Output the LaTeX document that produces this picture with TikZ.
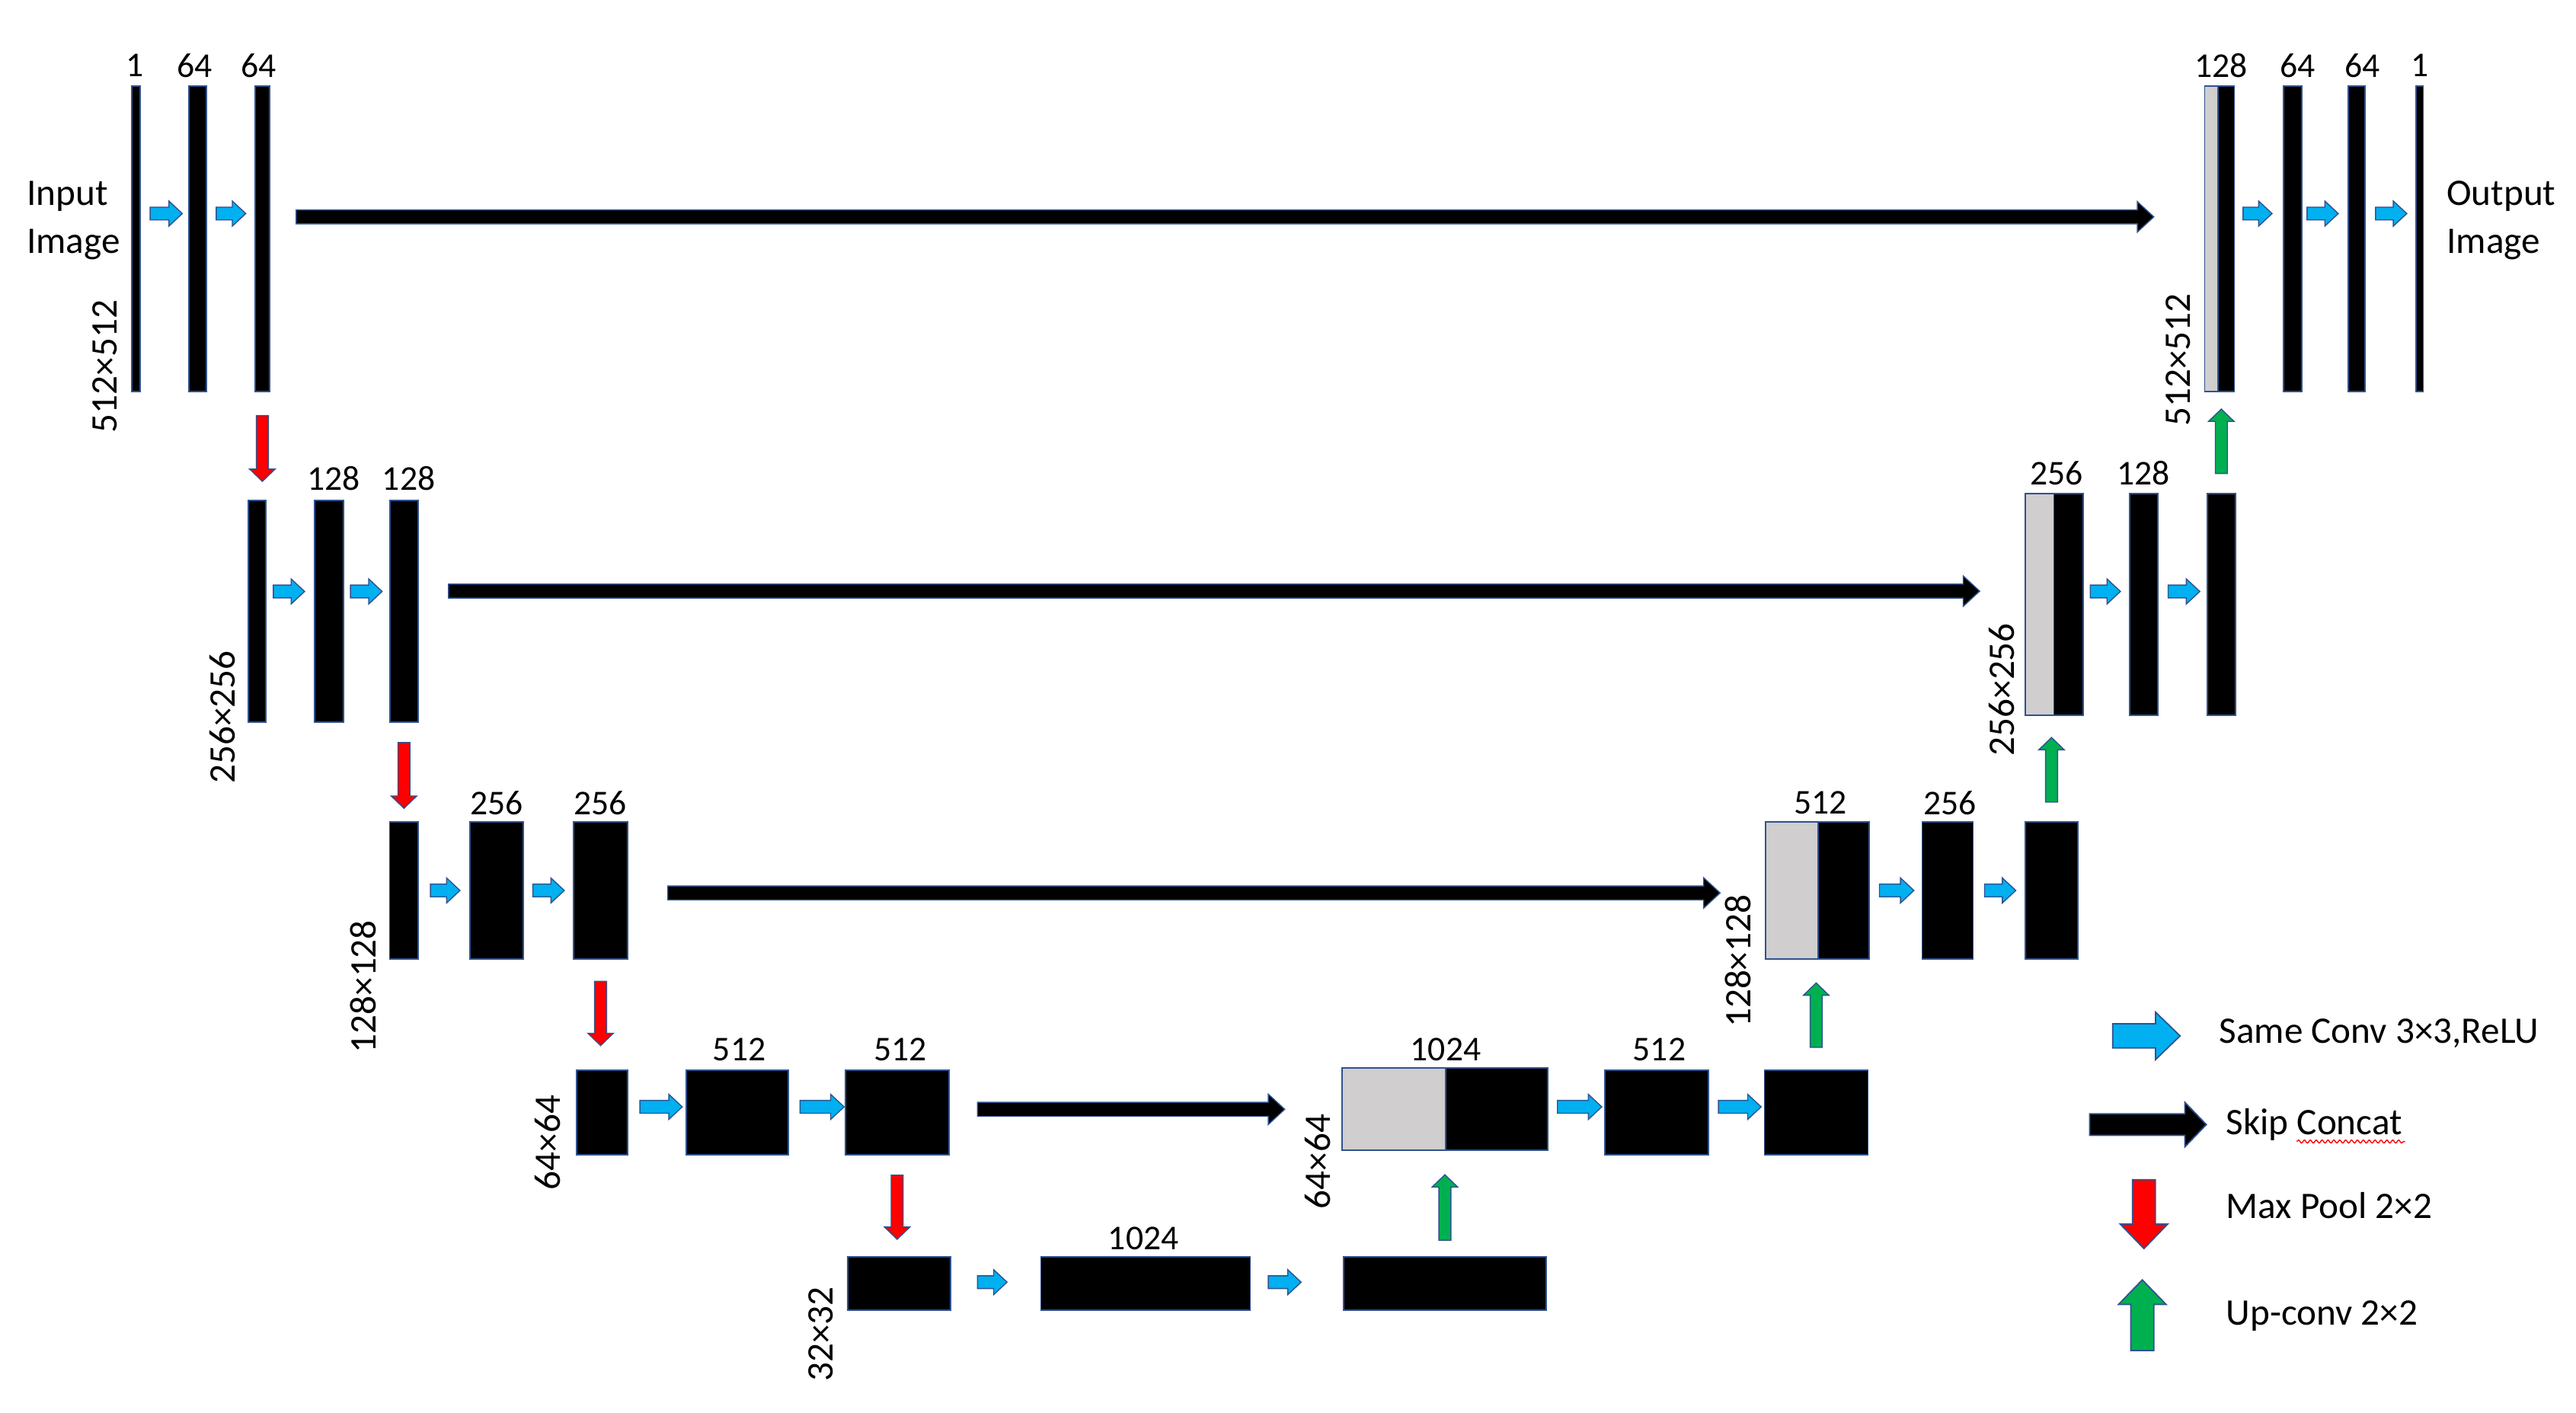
\documentclass[tikz,border=0pt]{standalone}
\usepackage{fontspec}
\setmainfont{Carlito}
\usetikzlibrary{fit,calc,decorations.pathmorphing}
\definecolor{bdr}{RGB}{47,82,143}
\definecolor{convblue}{RGB}{0,176,240}
\definecolor{catgray}{RGB}{208,206,206}
\definecolor{poolred}{RGB}{255,0,0}
\definecolor{upgreen}{RGB}{0,176,80}
% horizontal block arrow: style, start, tip
\newcommand\harrow[3]{\path[#1] let \p1=#2, \p2=#3 in
  (\x1,{\y1+\arS}) -- ({\x2-\arL},{\y1+\arS}) -- ({\x2-\arL},{\y1+\arH}) -- (\x2,\y1)
  -- ({\x2-\arL},{\y1-\arH}) -- ({\x2-\arL},{\y1-\arS}) -- (\x1,{\y1-\arS}) -- cycle;}
% downward block arrow
\newcommand\vdarrow[3]{\path[#1] let \p1=#2, \p2=#3 in
  ({\x1-\arS},\y1) -- ({\x1-\arS},{\y2+\arL}) -- ({\x1-\arH},{\y2+\arL}) -- (\x1,\y2)
  -- ({\x1+\arH},{\y2+\arL}) -- ({\x1+\arS},{\y2+\arL}) -- ({\x1+\arS},\y1) -- cycle;}
% upward block arrow
\newcommand\vuarrow[3]{\path[#1] let \p1=#2, \p2=#3 in
  ({\x1-\arS},\y1) -- ({\x1-\arS},{\y2-\arL}) -- ({\x1-\arH},{\y2-\arL}) -- (\x1,\y2)
  -- ({\x1+\arH},{\y2-\arL}) -- ({\x1+\arS},{\y2-\arL}) -- ({\x1+\arS},\y1) -- cycle;}
\newcommand\bx[6][blk]{\node[#1, fit={(#3,#4)(#5,#6)}] (#2) {};}
\tikzset{
  blk/.style={draw=bdr, fill=black, line width=0.5pt, inner sep=0pt, outer sep=0pt},
  gry/.style={blk, fill=catgray},
  lbl/.style={font=\fontsize{13}{15}\selectfont, inner sep=0pt},
  dimlbl/.style={font=\fontsize{14}{16}\selectfont, inner sep=0pt, rotate=90},
  txt/.style={font=\fontsize{14}{16}\selectfont, inner sep=0pt, anchor=base west},
  conv/.style={fill=convblue, draw=bdr, line width=0.4pt, /utils/exec={\def\arS{2.39pt}\def\arH{4.69pt}\def\arL{5.03pt}}},
  skiparr/.style={fill=black, draw=bdr, line width=0.4pt, /utils/exec={\def\arS{2.6pt}\def\arH{5.68pt}\def\arL{6.14pt}}},
  pool/.style={fill=poolred, draw=bdr, line width=0.4pt, /utils/exec={\def\arS{2.24pt}\def\arH{4.76pt}\def\arL{4.6pt}}},
  upc/.style={fill=upgreen, draw=bdr, line width=0.4pt, /utils/exec={\def\arS{2.24pt}\def\arH{4.76pt}\def\arL{4.6pt}}},
  legconv/.style={fill=convblue, draw=bdr, line width=0.5pt, /utils/exec={\def\arS{4.54pt}\def\arH{8.9pt}\def\arL{9.2pt}}},
  legskip/.style={fill=black, draw=bdr, line width=0.5pt, /utils/exec={\def\arS{4pt}\def\arH{8.3pt}\def\arL{8pt}}},
  legpool/.style={fill=poolred, draw=bdr, line width=0.5pt, /utils/exec={\def\arS{4.3pt}\def\arH{8.9pt}\def\arL{9.2pt}}},
  legup/.style={fill=upgreen, draw=bdr, line width=0.5pt, /utils/exec={\def\arS{4.3pt}\def\arH{8.9pt}\def\arL{9.2pt}}},
}
\begin{document}
\begin{tikzpicture}[x=0.02157cm, y=-0.02157cm]
\useasboundingbox (0,0) rectangle (1568,860);
% row coordinates
\coordinate (row1) at (0,130);
\coordinate (skip1) at (0,132);
\coordinate (row2) at (0,360);
\coordinate (skip2) at (0,359.8);
\coordinate (row3) at (0,542);
\coordinate (skip3) at (0,543.5);
\coordinate (row4) at (0,673.7);
\coordinate (skip4) at (0,675.2);
\coordinate (row5) at (0,780.4);

% ---------- Level 1 ----------
\bx{e1a}{80.3}{52.4}{85.4}{238.3}
\bx{e1b}{115}{52.4}{125.6}{238.3}
\bx{e1c}{155.3}{52.4}{164.1}{238.3}
\node[lbl] (l1a) at (82,40) {1};
\node[lbl] (l1b) at (118.5,40) {64};
\node[lbl] (l1c) at (157.5,40) {64};
\node[txt] (in1) at (16,125) {Input};
\node[txt] (in2) at (16,154) {Image};
\node[dimlbl] (s1l) at (64,223) {512×512};

\bx[gry]{d1g}{1342}{52.4}{1350}{238.3}
\bx{d1k}{1350}{52.4}{1360}{238.3}
\bx{d1b}{1390}{52.4}{1401}{238.3}
\bx{d1c}{1429.5}{52.4}{1439.5}{238.3}
\bx{d1d}{1470.6}{52.4}{1475}{238.3}
\node[lbl] (r1a) at (1352,40) {128};
\node[lbl] (r1b) at (1398.6,40) {64};
\node[lbl] (r1c) at (1438,40) {64};
\node[lbl] (r1d) at (1473,40) {1};
\node[txt] (out1) at (1489,125) {Output};
\node[txt] (out2) at (1489,154) {Image};
\node[dimlbl] (s1r) at (1326,219) {512×512};

\harrow{conv}{($(e1a.east|-row1)+(6,0)$)}{($(e1b.west|-row1)+(-4,0)$)}
\harrow{conv}{($(e1b.east|-row1)+(6,0)$)}{($(e1c.west|-row1)+(-5.7,0)$)}
\harrow{skiparr}{($(e1c.east|-skip1)+(16.2,0)$)}{($(d1g.west|-skip1)+(-31,0)$)}
\harrow{conv}{($(d1k.east|-row1)+(5.3,0)$)}{($(d1b.west|-row1)+(-7,0)$)}
\harrow{conv}{($(d1b.east|-row1)+(3.3,0)$)}{($(d1c.west|-row1)+(-6.2,0)$)}
\harrow{conv}{($(d1c.east|-row1)+(6.5,0)$)}{($(d1d.west|-row1)+(-5.6,0)$)}

% ---------- Level 2 ----------
\bx{e2a}{151}{304.6}{161.8}{439.5}
\bx{e2b}{191.4}{304.6}{209}{439.5}
\bx{e2c}{237.3}{304.6}{254.5}{439.5}
\node[lbl] (l2b) at (203,291) {128};
\node[lbl] (l2c) at (248.8,291) {128};
\node[dimlbl] (s2l) at (135.5,436.5) {256×256};

\bx[gry]{d2g}{1232.8}{300.4}{1250.2}{435.3}
\bx{d2k}{1250.2}{300.4}{1268}{435.3}
\bx{d2b}{1296.3}{300.4}{1313.5}{435.3}
\bx{d2c}{1343.5}{300.4}{1360.7}{435.3}
\node[lbl] (r2a) at (1251.7,288) {256};
\node[lbl] (r2b) at (1304.6,288) {128};
\node[dimlbl] (s2r) at (1218.5,419.7) {256×256};

\harrow{conv}{($(e2a.east|-row2)+(4.6,0)$)}{($(e2b.west|-row2)+(-6,0)$)}
\harrow{conv}{($(e2b.east|-row2)+(4.3,0)$)}{($(e2c.west|-row2)+(-4.7,0)$)}
\harrow{skiparr}{($(e2c.east|-skip2)+(18.5,0)$)}{($(d2g.west|-skip2)+(-27.8,0)$)}
\harrow{conv}{($(d2k.east|-row2)+(4.3,0)$)}{($(d2b.west|-row2)+(-5.6,0)$)}
\harrow{conv}{($(d2b.east|-row2)+(6.2,0)$)}{($(d2c.west|-row2)+(-4.5,0)$)}

% ---------- Level 3 ----------
\bx{e3a}{237.2}{500.2}{254.5}{583.7}
\bx{e3b}{286}{500.2}{318.4}{583.7}
\bx{e3c}{349.2}{500.2}{382}{583.7}
\node[lbl] (l3b) at (302.2,488.7) {256};
\node[lbl] (l3c) at (365.4,488.7) {256};
\node[dimlbl] (s3l) at (221.3,600.5) {128×128};

\bx[gry]{d3g}{1074.6}{500.2}{1106.6}{583.7}
\bx{d3k}{1106.6}{500.2}{1137.7}{583.7}
\bx{d3b}{1170}{500.2}{1201}{583.7}
\bx{d3c}{1232.7}{500.2}{1264.8}{583.7}
\node[lbl] (r3a) at (1108,488.7) {512};
\node[lbl] (r3b) at (1187,488.7) {256};
\node[dimlbl] (s3r) at (1058,585) {128×128};

\harrow{conv}{($(e3a.east|-row3)+(7.5,0)$)}{($(e3b.west|-row3)+(-6,0)$)}
\harrow{conv}{($(e3b.east|-row3)+(6,0)$)}{($(e3c.west|-row3)+(-5.7,0)$)}
\harrow{skiparr}{($(e3c.east|-skip3)+(24.5,0)$)}{($(d3g.west|-skip3)+(-27.6,0)$)}
\harrow{conv}{($(d3k.east|-row3)+(6.3,0)$)}{($(d3b.west|-row3)+(-5,0)$)}
\harrow{conv}{($(d3b.east|-row3)+(7,0)$)}{($(d3c.west|-row3)+(-5.7,0)$)}

% ---------- Level 4 ----------
\bx{e4a}{350.8}{651.4}{382}{702.8}
\bx{e4b}{417.7}{651.4}{480}{702.8}
\bx{e4c}{514.6}{651.4}{577.6}{702.8}
\node[lbl] (l4b) at (450,638.7) {512};
\node[lbl] (l4c) at (547.9,638.7) {512};
\node[dimlbl] (s4l) at (333.5,695.5) {64×64};

\bx[gry]{d4g}{817}{650}{880}{700}
\bx{d4k}{880}{650}{942}{700}
\bx{d4b}{977}{651.4}{1040}{702.8}
\bx{d4c}{1074}{651.4}{1137}{702.8}
\node[lbl] (r4a) at (880,638.7) {1024};
\node[lbl] (r4b) at (1010,638.7) {512};
\node[dimlbl] (s4r) at (802,707) {64×64};

\harrow{conv}{($(e4a.east|-row4)+(7.5,0)$)}{($(e4b.west|-row4)+(-2.4,0)$)}
\harrow{conv}{($(e4b.east|-row4)+(7,0)$)}{($(e4c.west|-row4)+(-0.8,0)$)}
\harrow{skiparr}{($(e4c.east|-skip4)+(17.4,0)$)}{($(d4g.west|-skip4)+(-35,0)$)}
\harrow{conv}{($(d4k.east|-row4)+(6,0)$)}{($(d4b.west|-row4)+(-2,0)$)}
\harrow{conv}{($(d4b.east|-row4)+(6,0)$)}{($(d4c.west|-row4)+(-2,0)$)}

% ---------- Level 5 ----------
\bx{b5a}{516}{764.9}{578.7}{797.4}
\bx{b5b}{633.6}{764.9}{761}{797.4}
\bx{b5c}{818}{764.9}{941}{797.4}
\node[lbl] (l5b) at (696,753.8) {1024};
\node[dimlbl] (s5) at (499.5,812) {32×32};

\harrow{conv}{($(b5a.east|-row5)+(16.3,0)$)}{($(b5b.west|-row5)+(-20.6,0)$)}
\harrow{conv}{($(b5b.east|-row5)+(11,0)$)}{($(b5c.west|-row5)+(-26,0)$)}

% ---------- Max pool (down) ----------
\vdarrow{pool}{($(e1c.south)+(0,14.7)$)}{($(e1c.south|-e2a.north)+(0,-11.6)$)}
\vdarrow{pool}{($(e2c.south)+(0,12.5)$)}{($(e2c.south|-e3a.north)+(0,-8.2)$)}
\vdarrow{pool}{($(e3c.south)+(0,13.6)$)}{($(e3c.south|-e4a.north)+(0,-15)$)}
\vdarrow{pool}{($(e4c.south)+(0,12.5)$)}{($(e4c.south|-b5a.north)+(0,-10.6)$)}

% ---------- Up-conv (up) ----------
\vuarrow{upc}{($(b5c.north)+(0,-10)$)}{($(b5c.north|-d4g.south)+(0,15)$)}
\vuarrow{upc}{($(d4c.north)+(0,-14)$)}{($(d4c.north|-d3g.south)+(0,14.6)$)}
\vuarrow{upc}{($(d3c.north)+(0,-12)$)}{($(d3c.north|-d2g.south)+(0,13.6)$)}
\vuarrow{upc}{($(d2c.north)+(0,-12.2)$)}{($(d2c.north|-d1g.south)+(0,10.7)$)}

% ---------- Legend ----------
\coordinate (lg1s) at (1286,630.5);
\coordinate (lg1e) at (1327,630.5);
\coordinate (lg2s) at (1272,684.5);
\coordinate (lg2e) at (1343,684.5);
\coordinate (lg3s) at (1305,718);
\coordinate (lg3e) at (1305,760);
\coordinate (lg4s) at (1304,822);
\coordinate (lg4e) at (1304,779);
\harrow{legconv}{(lg1s)}{(lg1e)}
\harrow{legskip}{(lg2s)}{(lg2e)}
\vdarrow{legpool}{(lg3s)}{(lg3e)}
\vuarrow{legup}{(lg4s)}{(lg4e)}
\node[txt] (lt1) at (1350.5,635) {Same Conv 3×3,ReLU};
\node[txt] (lt2) at (1354.7,690.8) {Skip Concat};
\node[txt] (lt3) at (1354.7,741.8) {Max Pool 2×2};
\node[txt] (lt4) at (1354.7,806.7) {Up-conv 2×2};
\coordinate (sq1) at (1398,694.8);
\coordinate (sq2) at (1464,694.8);
\draw[poolred, line width=0.4pt, decorate, decoration={snake, amplitude=0.55pt, segment length=2.2pt}] (sq1) -- (sq2);
\end{tikzpicture}
\end{document}
